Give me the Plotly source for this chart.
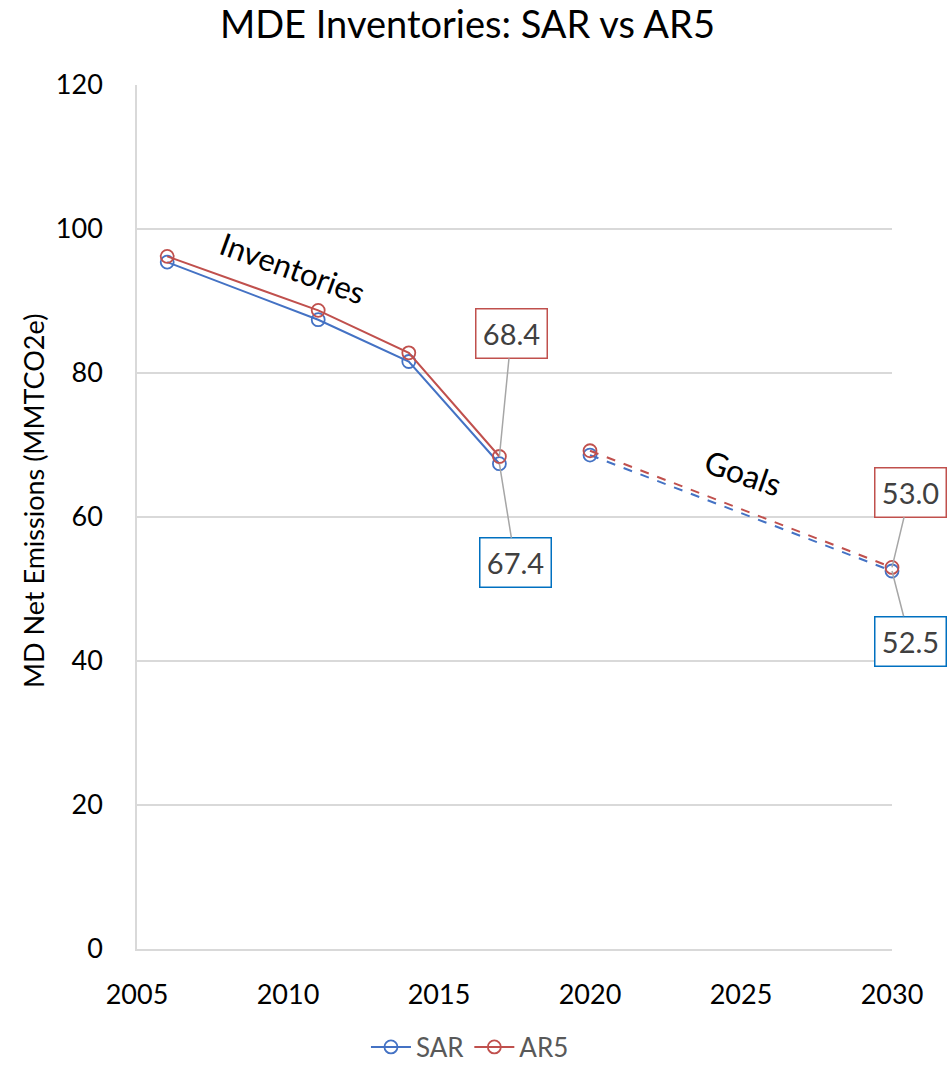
import plotly.graph_objects as go

# ---- data ----
inv_years = [2006, 2011, 2014, 2017]
sar_inv = [95.4, 87.4, 81.6, 67.4]
ar5_inv = [96.2, 88.7, 82.8, 68.4]

goal_years = [2020, 2030]
sar_goal = [68.6, 52.5]
ar5_goal = [69.2, 53.0]

x_ticks = [2005, 2010, 2015, 2020, 2025, 2030]
y_ticks = [0, 20, 40, 60, 80, 100, 120]

BLUE = "#4472C4"
RED = "#C0504D"
FONT = "Lato"

fig = go.Figure()

marker_common = dict(symbol="circle-open", size=13, line=dict(width=1.8))

fig.add_trace(go.Scatter(x=inv_years, y=sar_inv, mode="lines+markers", name="SAR",
                         line=dict(color=BLUE, width=2), marker=dict(color=BLUE, **marker_common),
                         legendgroup="SAR", cliponaxis=False))
fig.add_trace(go.Scatter(x=inv_years, y=ar5_inv, mode="lines+markers", name="AR5",
                         line=dict(color=RED, width=2), marker=dict(color=RED, **marker_common),
                         legendgroup="AR5", cliponaxis=False))
fig.add_trace(go.Scatter(x=goal_years, y=sar_goal, mode="lines+markers", name="SAR",
                         line=dict(color=BLUE, width=2, dash="dash"), marker=dict(color=BLUE, **marker_common),
                         legendgroup="SAR", showlegend=False, cliponaxis=False))
fig.add_trace(go.Scatter(x=goal_years, y=ar5_goal, mode="lines+markers", name="AR5",
                         line=dict(color=RED, width=2, dash="dash"), marker=dict(color=RED, **marker_common),
                         legendgroup="AR5", showlegend=False, cliponaxis=False))

label_font = dict(family=FONT, size=29, color="#404040")

def data_label(x, y, color, ax, ay):
    fig.add_annotation(x=x, y=y, xref="x", yref="y", text=f"{y:.1f}", showarrow=True,
                       arrowhead=0, arrowwidth=1.5, arrowcolor="#A6A6A6", ax=ax, ay=ay,
                       font=label_font, bgcolor="white", bordercolor=color, borderwidth=1.5,
                       borderpad=3, width=64, height=42)

data_label(inv_years[-1], ar5_inv[-1], RED, 12, -123)
data_label(inv_years[-1], sar_inv[-1], "#0070C0", 16, 99)
data_label(goal_years[-1], ar5_goal[-1], RED, 18, -75)
data_label(goal_years[-1], sar_goal[-1], "#0070C0", 18, 70)

fig.add_annotation(x=2010.18, y=94.6, xref="x", yref="y", text="Inventories", showarrow=False,
                   textangle=20, font=dict(family=FONT, size=31, color="black"))
fig.add_annotation(x=2025.08, y=66.25, xref="x", yref="y", text="Goals", showarrow=False,
                   textangle=19, font=dict(family=FONT, size=32, color="black"))

# y-axis title (placed as text to match the reference's vertical position)
fig.add_annotation(x=-0.1377, y=0.5185, xref="paper", yref="paper", text="MD Net Emissions (MMTCO2e)",
                   showarrow=False, textangle=-90, xanchor="center", yanchor="middle",
                   font=dict(family=FONT, size=27, color="black"))

fig.update_layout(
    width=950, height=1065,
    paper_bgcolor="white", plot_bgcolor="white",
    margin=dict(l=137, r=58, t=85, b=116, autoexpand=False),
    title=dict(text="MDE Inventories: SAR vs AR5", x=0.492, xanchor="center",
               yref="container", y=1 - 25 / 1065, yanchor="middle",
               font=dict(family=FONT, size=38, color="black")),
    showlegend=True,
    legend=dict(orientation="h", x=0.441, xanchor="center", yref="container", y=1 - 1047 / 1065,
                yanchor="middle",
                font=dict(family=FONT, size=26, color="#595959"), bgcolor="rgba(0,0,0,0)",
                itemwidth=40),
    xaxis=dict(range=[2005, 2030], tickvals=x_ticks, ticktext=[str(v) for v in x_ticks],
               showgrid=False, showline=True, linecolor="#D9D9D9", linewidth=1.5, zeroline=False,
               automargin=False,
               ticks="", ticklabelstandoff=21, tickfont=dict(family=FONT, size=27, color="black")),
    yaxis=dict(range=[0, 120], tickvals=y_ticks, showgrid=True, gridcolor="#D9D9D9", gridwidth=1.5,
               showline=True, linecolor="#D9D9D9", linewidth=1.5, zeroline=False, automargin=False,
               ticks="", ticklabelstandoff=27, tickfont=dict(family=FONT, size=27, color="black")),
)

fig.write_html("out.html", config={"displayModeBar": False},
               post_script="document.body.style.margin='0';document.body.style.overflow='hidden';")
